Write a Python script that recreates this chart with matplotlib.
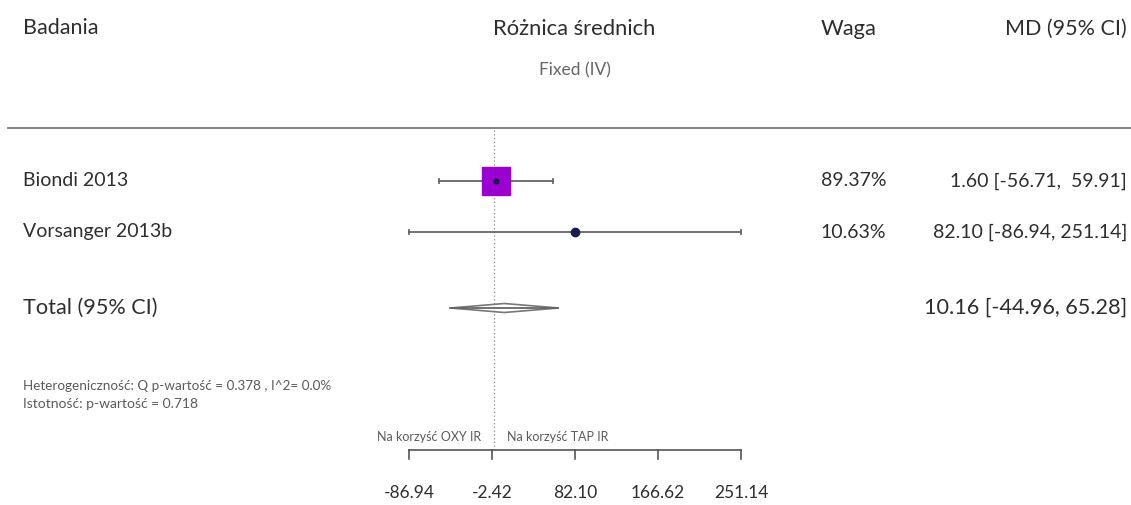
import matplotlib
matplotlib.use("Agg")
import numpy as np
import matplotlib.pyplot as plt
from matplotlib.patches import Polygon

plt.rcParams['font.family'] = ['Lato', 'DejaVu Sans']

# data
studies = ["Biondi 2013", "Vorsanger 2013b"]
md = [1.60, 82.10]
ci_low = [-56.71, -86.94]
ci_high = [59.91, 251.14]
weights = [89.37, 10.63]

total_md = 10.16
total_low = -44.96
total_high = 65.28

tick_values = [-86.94, -2.42, 82.10, 166.62, 251.14]
heterogeneity = "Heterogeniczność: Q p-wartość = 0.378 , I^2= 0.0%"
significance = "Istotność: p-wartość = 0.718"
favours_left = "Na korzyść OXY IR"
favours_right = "Na korzyść TAP IR"

W, H = 1131, 505
txt = "#2e2e2e"
light = "#5a5a5a"
fig = plt.figure(figsize=(W / 100, H / 100), dpi=100)

# text layer in pixel coordinates
tax = fig.add_axes([0, 0, 1, 1])
tax.set_xlim(0, W)
tax.set_ylim(H, 0)
tax.axis("off")

# forest layer in data coordinates
x0_px, x1_px = 409, 741
ax = fig.add_axes([x0_px / W, 0, (x1_px - x0_px) / W, 1])
ax.set_xlim(tick_values[0], tick_values[-1])
ax.set_ylim(H, 0)
ax.axis("off")

# headers
tax.text(23, 28, "Badania", fontsize=15.5, color=txt, va="center")
tax.text(574, 29, "Różnica średnich", fontsize=15.8, color=txt, va="center", ha="center")
tax.text(575, 70, "Fixed (IV)", fontsize=12.5, color="#666666", va="center", ha="center")
tax.text(849, 29, "Waga", fontsize=15.8, color=txt, va="center", ha="center")
tax.text(1127, 29, "MD (95% CI)", fontsize=15.5, color=txt, va="center", ha="right")
tax.plot([8, W], [128, 128], color="#777777", lw=1.3)

# null line
ax.plot([0, 0], [130, 452], color="#888888", lw=0.9, ls=(0, (1, 2)), clip_on=False)

# study rows
row_y = [181, 232]
wmax = max(weights)
for i, name in enumerate(studies):
    y = row_y[i]
    tax.text(23, y, name, fontsize=14, color=txt, va="center")
    ax.plot([ci_low[i], ci_high[i]], [y, y], color="#666666", lw=1.3, clip_on=False)
    ax.plot([ci_low[i], ci_low[i]], [y - 2, y + 2], color="#666666", lw=1.3, clip_on=False)
    ax.plot([ci_high[i], ci_high[i]], [y - 2, y + 2], color="#666666", lw=1.3, clip_on=False)
    size = 19.5 * weights[i] / wmax
    ax.plot(md[i], y, marker="s", ms=size, color="#9a00d0", mec="#9a00d0", clip_on=False)
    dot = 3.5 if i == 0 else 6
    ax.plot(md[i], y, marker="o", ms=dot, color="#1c1c50", mec="#1c1c50", clip_on=False)
    tax.text(886, y, f"{weights[i]:.2f}%", fontsize=14, color=txt, va="center", ha="right")
    tax.text(1127, y, f"{md[i]:.2f} [{ci_low[i]:.2f}, {ci_high[i]:6.2f}]",
             fontsize=14, color=txt, va="center", ha="right")

# total
ty = 308
tax.text(23, ty, "Total (95% CI)", fontsize=15.6, color=txt, va="center")
ax.plot([total_low, total_high], [ty, ty], color="#666666", lw=1.3, clip_on=False)
diamond = Polygon([[total_low, ty], [total_md, ty - 4.5], [total_high, ty], [total_md, ty + 4.5]],
                  closed=True, facecolor="white", edgecolor="#777777", lw=1.2, clip_on=False)
ax.add_patch(diamond)
tax.text(1127, ty, f"{total_md:.2f} [{total_low:.2f}, {total_high:.2f}]",
         fontsize=15.6, color=txt, va="center", ha="right")

tax.text(23, 386, heterogeneity, fontsize=9.7, color=light, va="center")
tax.text(23, 404, significance, fontsize=10, color=light, va="center")

# favours labels
ax.text(-13, 437, favours_left, fontsize=9, color=light, va="center", ha="right")
ax.text(13, 437, favours_right, fontsize=9, color=light, va="center", ha="left")

# bracket axis
ay = 450
ax.plot([tick_values[0], tick_values[-1]], [ay, ay], color="#555555", lw=1.2, clip_on=False)
for t in tick_values:
    ax.plot([t, t], [ay, ay + 9], color="#555555", lw=1.2, clip_on=False)
    ax.text(t, 493, f"{t:.2f}", fontsize=12.5, color=txt, va="center", ha="center")

fig.savefig("out.png", dpi=100, facecolor="white")
